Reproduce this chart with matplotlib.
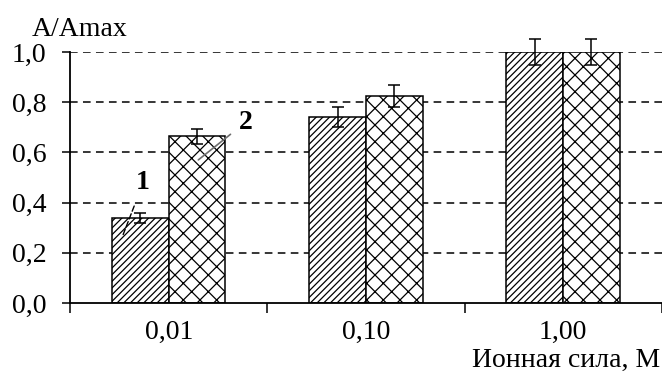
import numpy as np
import matplotlib
matplotlib.use("Agg")
import matplotlib.pyplot as plt

# ---------------------------------------------------------------------------
# data
# ---------------------------------------------------------------------------
categories = ["0,01", "0,10", "1,00"]
series1 = [0.34, 0.74, 1.00]
series1_err = [0.02, 0.04, 0.05]
series2 = [0.665, 0.825, 1.00]
series2_err = [0.03, 0.045, 0.05]
yticks = [0.0, 0.2, 0.4, 0.6, 0.8, 1.0]
ytick_labels = ["0,0", "0,2", "0,4", "0,6", "0,8", "1,0"]

plt.rcParams.update({
    "font.family": ["Liberation Serif", "DejaVu Serif"],
    "font.size": 20,
    "hatch.linewidth": 0.9,
    "hatch.color": "black",
})

fig = plt.figure(figsize=(6.62, 3.74), dpi=100)
ax = fig.add_axes([0.106, 0.19, 0.8935, 0.671])

x = np.arange(len(categories))
w = 0.287

ax.bar(x - w / 2, series1, w, facecolor="white", edgecolor="black",
       linewidth=1.1, hatch="/////", zorder=2)
ax.bar(x + w / 2, series2, w, facecolor="white", edgecolor="black",
       linewidth=1.1, hatch="xx", zorder=2)
ax.errorbar(x - w / 2, series1, yerr=series1_err, fmt="none", ecolor="black",
            elinewidth=1.1, capsize=4, capthick=1.1, zorder=3, clip_on=False)
ax.errorbar(x + w / 2, series2, yerr=series2_err, fmt="none", ecolor="black",
            elinewidth=1.1, capsize=4, capthick=1.1, zorder=3, clip_on=False)

ax.set_xlim(-0.5, len(categories) - 0.5)
ax.set_ylim(0, 1.0)

# y axis
ax.set_yticks(yticks)
ax.set_yticklabels(ytick_labels)
ax.tick_params(axis="y", direction="out", length=6, width=1.1, pad=11)
for yv in yticks[1:]:
    ax.axhline(yv, color="black", linestyle=(0, (5, 3.5)), linewidth=1.1,
               zorder=1)

# x axis: labels at centres, tick marks at category boundaries
ax.set_xticks(x)
ax.set_xticklabels(categories)
ax.tick_params(axis="x", which="major", length=0, pad=12)
ax.set_xticks(np.arange(len(categories) + 1) - 0.5, minor=True)
ax.tick_params(axis="x", which="minor", direction="out", length=7, width=1.1)

for side in ("top", "right"):
    ax.spines[side].set_visible(False)
for side in ("left", "bottom"):
    ax.spines[side].set_linewidth(1.3)

# curve labels
ax.annotate("1", xy=(-0.236, 0.263), xytext=(-0.13, 0.478),
            ha="center", va="center", fontweight="bold",
            arrowprops=dict(arrowstyle="-", color="black", linewidth=1.0,
                            linestyle=(0, (4, 2)), shrinkA=6, shrinkB=0))
ax.annotate("2", xy=(0.15, 0.57), xytext=(0.39, 0.72),
            ha="center", va="center", fontweight="bold",
            arrowprops=dict(arrowstyle="-", color="#6e6e6e", linewidth=1.2,
                            shrinkA=5, shrinkB=0))

fig.text(0.048, 0.904, "A/Amax", ha="left", va="baseline")
fig.text(0.997, 0.018, "Ионная сила, М", ha="right", va="baseline")

fig.savefig("out.png", dpi=100)
